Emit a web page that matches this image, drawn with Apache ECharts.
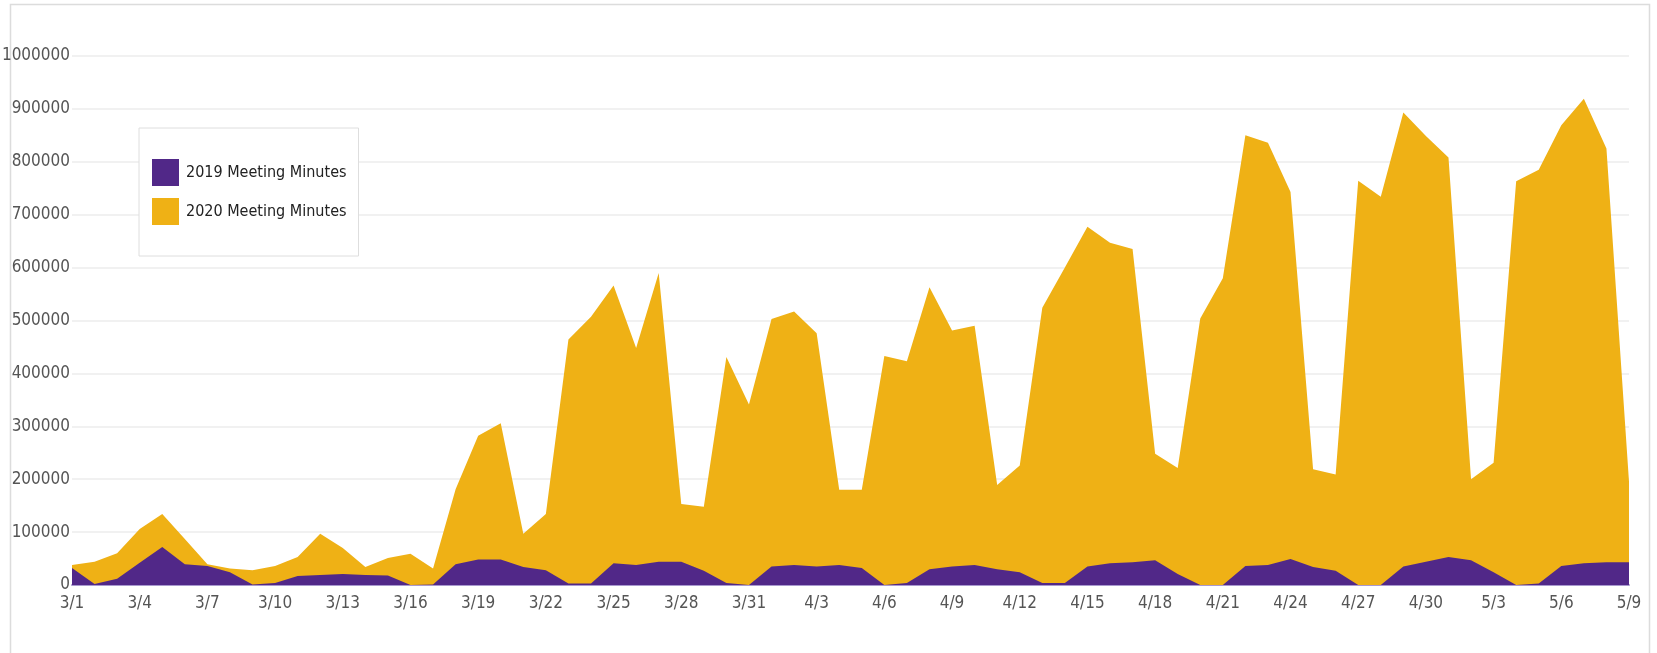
<!DOCTYPE html>
<html>
<head>
<meta charset="utf-8">
<title>Meeting Minutes 2019 vs 2020</title>
<script src="https://cdn.jsdelivr.net/npm/echarts@6/dist/echarts.min.js"></script>
<style>
  html, body { margin: 0; padding: 0; background: #fff; }
  #chart { width: 1657px; height: 653px; }
</style>
</head>
<body>
<div id="chart"></div>
<script>
const days = [
  '3/1', '3/2', '3/3', '3/4', '3/5', '3/6', '3/7', '3/8', '3/9', '3/10',
  '3/11', '3/12', '3/13', '3/14', '3/15', '3/16', '3/17', '3/18', '3/19', '3/20',
  '3/21', '3/22', '3/23', '3/24', '3/25', '3/26', '3/27', '3/28', '3/29', '3/30',
  '3/31', '4/1', '4/2', '4/3', '4/4', '4/5', '4/6', '4/7', '4/8', '4/9',
  '4/10', '4/11', '4/12', '4/13', '4/14', '4/15', '4/16', '4/17', '4/18', '4/19',
  '4/20', '4/21', '4/22', '4/23', '4/24', '4/25', '4/26', '4/27', '4/28', '4/29',
  '4/30', '5/1', '5/2', '5/3', '5/4', '5/5', '5/6', '5/7', '5/8', '5/9'
]

const minutes2019 = [
  32000, 2000, 12000, 42000, 72000, 39000, 36000, 24000, 1000, 4000,
  17000, 19000, 21000, 19000, 18000, 0, 1000, 39000, 48000, 48000,
  34000, 28000, 3000, 3000, 41000, 38000, 44000, 44000, 27000, 4000,
  0, 35000, 38000, 35000, 38000, 32000, 0, 4000, 30000, 35000,
  38000, 30000, 24000, 4000, 4000, 35000, 41000, 43000, 47000, 21000,
  0, 0, 36000, 38000, 49000, 34000, 27000, 0, 0, 35000,
  44000, 53000, 47000, 24000, 0, 3000, 36000, 41000, 43000, 43000
]

const minutes2020 = [
  38000, 44000, 60000, 106000, 134000, 87000, 39000, 31000, 28000, 36000,
  53000, 97000, 70000, 34000, 51000, 59000, 31000, 181000, 282000, 306000,
  97000, 134000, 464000, 507000, 566000, 448000, 590000, 153000, 148000, 431000,
  341000, 503000, 517000, 476000, 180000, 180000, 433000, 423000, 563000, 481000,
  490000, 189000, 226000, 524000, 600000, 677000, 647000, 635000, 248000, 221000,
  504000, 580000, 850000, 836000, 743000, 219000, 209000, 764000, 734000, 893000,
  849000, 808000, 200000, 231000, 763000, 785000, 869000, 919000, 825000, 195000
]

const seriesNames = ['2019 Meeting Minutes', '2020 Meeting Minutes']
const colors = ['#512888', '#EFB115']
const labelFont = "'Liberation Sans Narrow', 'DejaVu Sans Condensed', 'Roboto', sans-serif"

const getOption = () => {
  return {
    backgroundColor: '#fff',
    animation: false,
    graphic: [
      {
        type: 'rect',
        silent: true,
        z: -10,
        shape: { x: 10.5, y: 4.5, width: 1639, height: 700 },
        style: { fill: 'none', stroke: '#dcdcdc', lineWidth: 1.5 }
      }
    ],
    grid: {
      left: 72,
      right: 28,
      top: 56,
      bottom: 68,
      containLabel: false,
      outerBoundsMode: 'none'
    },
    legend: {
      data: seriesNames,
      orient: 'vertical',
      left: 139,
      top: 128,
      icon: 'rect',
      itemWidth: 27,
      itemHeight: 27,
      itemGap: 12,
      padding: [31, 12, 31, 13],
      backgroundColor: '#fff',
      borderColor: '#dedede',
      borderWidth: 1,
      textStyle: {
        color: '#222',
        fontSize: 16,
        fontFamily: labelFont,
        padding: [0, 0, 0, 2]
      }
    },
    xAxis: {
      type: 'category',
      data: days,
      boundaryGap: false,
      axisLine: { lineStyle: { color: '#a999cf', width: 2 } },
      axisTick: { show: false },
      axisLabel: {
        interval: 2,
        color: '#555',
        fontSize: 17,
        fontFamily: labelFont,
        margin: 10
      },
      splitLine: { show: false }
    },
    yAxis: {
      type: 'value',
      min: 0,
      max: 1000000,
      interval: 100000,
      axisLine: { show: false },
      axisTick: { show: false },
      axisLabel: {
        color: '#555',
        fontSize: 17,
        fontFamily: labelFont,
        margin: 2,
        formatter: (v) => String(v)
      },
      splitLine: { lineStyle: { color: '#ededed', width: 1.5 } }
    },
    series: [
      {
        name: seriesNames[0],
        type: 'line',
        data: minutes2019,
        z: 4,
        showSymbol: false,
        symbol: 'none',
        itemStyle: { color: colors[0] },
        lineStyle: { width: 0, color: colors[0] },
        areaStyle: { color: colors[0], opacity: 1 }
      },
      {
        name: seriesNames[1],
        type: 'line',
        data: minutes2020,
        z: 2,
        showSymbol: false,
        symbol: 'none',
        itemStyle: { color: colors[1] },
        lineStyle: { width: 0, color: colors[1] },
        areaStyle: { color: colors[1], opacity: 1 }
      }
    ]
  }
}

const chartInstance = echarts.init(document.getElementById('chart'))
chartInstance.setOption(getOption())

window.addEventListener('resize', () => {
  chartInstance && chartInstance.resize()
})
</script>
</body>
</html>
